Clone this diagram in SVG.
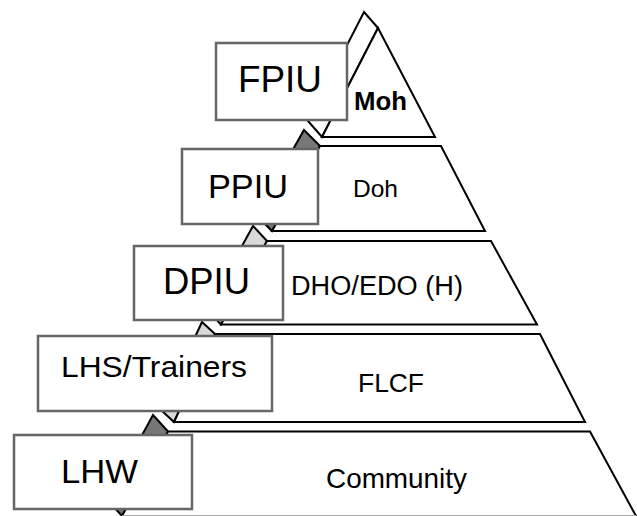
<svg xmlns="http://www.w3.org/2000/svg" width="637" height="516" viewBox="0 0 637 516">
<style>
.face{fill:#fff;stroke:#000;stroke-width:2;stroke-linejoin:miter}
.side{stroke:#000;stroke-width:2;stroke-linejoin:miter}
.white{fill:#fff}
.dark{fill:#777}
.light{fill:#d9d9d9}
.box{fill:#fff;stroke:#666;stroke-width:2.5}
.t{font-family:"Liberation Sans",Arial,sans-serif;fill:#000}
</style>
<rect width="637" height="516" fill="#fff"/>
<g id="layer-moh">
<polygon class="side white" points="364,12 378,28 322,137 308,121"/>
<polygon class="face" points="378,28 435,137 322,137"/>
<text class="t" x="354" y="110" font-size="26" font-weight="bold" textLength="53" lengthAdjust="spacingAndGlyphs">Moh</text>
</g>
<g id="layer-doh">
<polygon class="side dark" points="304,130 320,146 272,231 256,215"/>
<polygon class="face" points="320,146 441,146 485,231 272,231"/>
<text class="t" x="353" y="197" font-size="24" textLength="45" lengthAdjust="spacingAndGlyphs">Doh</text>
</g>
<g id="layer-dho">
<polygon class="side light" points="253,226 267,241 221,324.5 207,309.5"/>
<polygon class="face" points="267,241 491,241 537,324.5 221,324.5"/>
<text class="t" x="291" y="295" font-size="27" textLength="172" lengthAdjust="spacingAndGlyphs">DHO/EDO (H)</text>
</g>
<g id="layer-flcf">
<polygon class="side light" points="202,322 215,334 174,422 161,410"/>
<polygon class="face" points="215,334 540,334 585,422 174,422"/>
<text class="t" x="358" y="392" font-size="26" textLength="66" lengthAdjust="spacingAndGlyphs">FLCF</text>
</g>
<g id="layer-community">
<polygon class="side dark" points="153,415 168,431.5 122,516 107,499.5"/>
<polygon class="face" points="168,431.5 590,431.5 636,516 122,516"/>
<line x1="122" y1="515.5" x2="636" y2="515.5" stroke="#aaa" stroke-width="1"/>
<text class="t" x="326" y="488" font-size="28" textLength="141" lengthAdjust="spacingAndGlyphs">Community</text>
</g>
<g id="box-fpiu">
<rect class="box" x="216" y="43" width="131" height="77"/>
<text class="t" x="238" y="92" font-size="37" textLength="84" lengthAdjust="spacingAndGlyphs">FPIU</text>
</g>
<g id="box-ppiu">
<rect class="box" x="182" y="149" width="136" height="75"/>
<text class="t" x="208" y="198" font-size="34" textLength="80" lengthAdjust="spacingAndGlyphs">PPIU</text>
</g>
<g id="box-dpiu">
<rect class="box" x="134" y="246" width="149" height="74"/>
<text class="t" x="163" y="294" font-size="36" textLength="87" lengthAdjust="spacingAndGlyphs">DPIU</text>
</g>
<g id="box-lhs">
<rect class="box" x="38" y="336" width="234" height="75"/>
<text class="t" x="61" y="377" font-size="30" textLength="186" lengthAdjust="spacingAndGlyphs">LHS/Trainers</text>
</g>
<g id="box-lhw">
<rect class="box" x="14" y="435" width="178" height="74"/>
<text class="t" x="61" y="483" font-size="34" textLength="77" lengthAdjust="spacingAndGlyphs">LHW</text>
</g>
</svg>
